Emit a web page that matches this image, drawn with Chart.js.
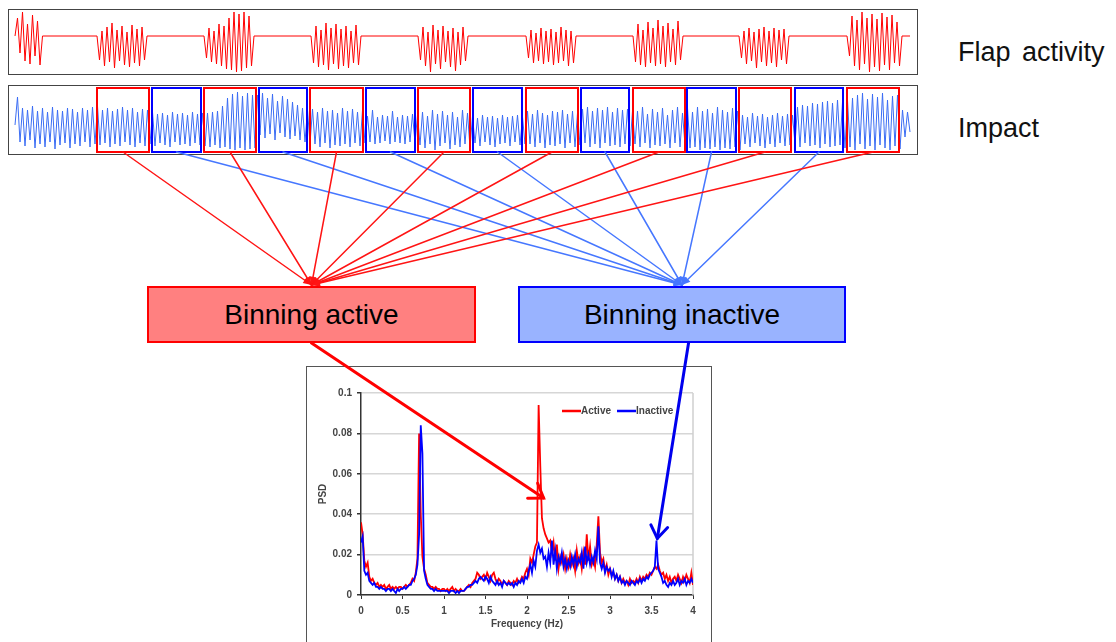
<!DOCTYPE html>
<html>
<head>
<meta charset="utf-8">
<script src="https://cdn.jsdelivr.net/npm/chart.js@4.4.1/dist/chart.umd.min.js"></script>
<style>
  html, body { margin:0; padding:0; background:#fff; width:1116px; height:642px; overflow:hidden;
               font-family:"Liberation Sans", Arial, sans-serif; }
  .frame { position:absolute; box-sizing:border-box; border:1px solid #444; background:#fff; }
  canvas { position:absolute; display:block; }
  .label { position:absolute; font-size:27px; line-height:27px; color:#111; white-space:nowrap; word-spacing:4px; }
  .bin { position:absolute; box-sizing:border-box; display:flex; align-items:center; justify-content:center;
         font-size:28px; color:#000; }
</style>
</head>
<body>
<div class="frame" style="left:8px;top:9px;width:910px;height:66px"></div>
<canvas id="flap" width="908" height="64" style="left:9px;top:10px"></canvas>
<div class="label" style="left:958px;top:39px">Flap activity</div>

<div class="frame" style="left:8px;top:85px;width:910px;height:70px"></div>
<canvas id="impact" width="908" height="68" style="left:9px;top:86px"></canvas>
<div class="label" style="left:958px;top:115px">Impact</div>

<div class="bin" id="binActive" style="left:147px;top:286px;width:329px;height:57px;background:#ff8080;border:2px solid #ff0000">Binning active</div>
<div class="bin" id="binInactive" style="left:518px;top:286px;width:328px;height:57px;background:#99b3ff;border:2px solid #0000ff">Binning inactive</div>

<div class="frame" style="left:306px;top:366px;width:406px;height:290px;border-color:#555"></div>
<canvas id="psd" width="404" height="275" style="left:307px;top:367px"></canvas>

<canvas id="overlay" width="1116" height="642" style="left:0;top:0;pointer-events:none"></canvas>

<script>
const FONT = '"Liberation Sans", Arial, sans-serif';

// ---- time traces (s), both sampled every DT from T_START ----
const T_START = 0.6, DT = 0.25, TRACE_END = 90.1, T_MAX = 90.8;

// flapping bouts: start time of each bout and its samples (0 = resting baseline)
const flapBurstStart = [0.6, 8.8, 19.5, 30.2, 40.9, 51.7, 62.4, 73.0, 83.8];
const flapBursts = [
  [0, 18, -17, 24, -25, 12, -28, 21, -20, 15, -29, 0],
  [0, -24, 5, -30, 9, -26, 13, -32, 6, -25, 10, -29, 4, -31, 11, -27, 7, -30, 9, -24, 0],
  [0, -22, 8, -26, 5, -28, 12, -30, 10, -33, 18, -34, 24, -36, 22, -35, 24, -32, 20, -30, 0],
  [0, -27, 10, -31, 6, -29, 13, -34, 8, -28, 12, -33, 7, -30, 10, -32, 5, -27, 11, -29, 0],
  [0, -24, 9, -30, 4, -36, 11, -28, 6, -33, 10, -26, 5, -31, 8, -35, 4, -29, 9, -25, 0],
  [0, -22, 6, -27, 3, -25, 8, -28, 5, -26, 7, -29, 4, -27, 9, -25, 6, -30, 5, -27, 0],
  [0, -26, 12, -29, 6, -31, 14, -27, 8, -30, 16, -28, 10, -31, 13, -26, 7, -29, 15, -24, 0],
  [0, -22, 5, -28, 8, -25, 4, -32, 7, -26, 9, -30, 5, -27, 8, -31, 6, -24, 7, -28, 0],
  [0, -20, 20, -30, 16, -34, 24, -28, 18, -36, 22, -31, 17, -35, 23, -29, 19, -34, 21, -27, 14, -30, 0]
];

// impact trace, one line per bin
const impactTrace = [
  -5, 23, -22, 12, -26, 10, -20, 14, -28, 9, -24, 12, -27, 8, -22, 13, -29, 10, -25, 9, -23, 12, -28, 11, -24, 8, -26, 12, -22, 10, -27, 13, -24,
  14, -25, 10, -23, 12, -27, 9, -24, 11, -26, 13, -22, 10, -25, 12, -27, 8, -23, 11, -26, 10,
  -24, 8, -26, 6, -23, 7, -25, 5, -27, 8, -22, 6, -25, 7, -24, 5, -26, 8, -23, 6, -25, 7,
  -26, 7, -27, 8, -25, 9, -28, 14, -27, 22, -29, 26, -30, 28, -28, 24, -30, 27, -29, 25, -28,
  25, -15, 27, -18, 22, -14, 26, -20, 19, -13, 24, -17, 21, -19, 18, -16, 15, -20, 12, -22, 10, -24,
  11, -24, 8, -27, 12, -23, 9, -28, 10, -25, 7, -26, 12, -24, 9, -27, 11, -23, 8, -26, 10,
  -23, 4, -22, 10, -24, 3, -23, 5, -21, 4, -24, 9, -22, 3, -23, 5, -24, 4, -22, 6, -23, 5,
  -25, 8, -28, 4, -24, 10, -30, 6, -26, 9, -23, 5, -29, 8, -25, 3, -27, 10, -24, 7, -28,
  4, -23, 2, -26, 5, -22, 3, -25, 4, -27, 2, -24, 5, -23, 3, -26, 4, -22, 5, -25, 3, -24,
  9, -24, 6, -27, 10, -23, 7, -28, 5, -25, 9, -26, 8, -24, 10, -28, 6, -23, 9, -27, 7,
  -25, 11, -23, 13, -27, 9, -24, 12, -28, 10, -23, 13, -26, 8, -25, 12, -27, 10, -24, 11, -26, 9,
  -24, 9, -27, 13, -23, 6, -28, 11, -25, 8, -26, 12, -24, 5, -28, 10, -23, 13, -27, 7, -25,
  12, -28, 8, -27, 13, -30, 9, -28, 11, -29, 7, -27, 13, -30, 10, -28, 8, -29, 12, -27, 9, -30,
  5, -24, 3, -27, 7, -23, 4, -26, 6, -28, 3, -24, 5, -27, 7, -23, 4, -26, 6, -25, 5,
  -24, 13, -27, 15, -23, 14, -26, 17, -25, 16, -28, 18, -24, 19, -27, 17, -26, 20, -25, 18, -28, 20,
  -27, 22, -30, 25, -24, 27, -29, 21, -26, 26, -30, 23, -25, 27, -28, 20, -30, 24, -26, 25, -29,
  10, -17, 8, -12
];

// bins [start, end] (s)
const activeBins = [[8.8,14.0],[19.5,24.7],[30.1,35.4],[40.9,46.1],[51.7,56.9],[62.4,67.6],[73.0,78.2],[83.8,89.0]];
const inactiveBins = [[14.3,19.2],[25.0,29.8],[35.7,40.6],[46.4,51.3],[57.2,62.0],[67.8,72.7],[78.6,83.4]];

// ---- power spectra, 0..4 Hz every 0.02 Hz ----
const FREQ_STEP = 0.02;
const psdActive = [
  0.036,0.030,0.017,0.014,0.016,0.009,0.007,0.008,0.006,0.005,
  0.006,0.004,0.005,0.004,0.005,0.003,0.004,0.005,0.003,0.004,
  0.003,0.004,0.003,0.004,0.004,0.003,0.004,0.005,0.004,0.005,
  0.006,0.008,0.007,0.011,0.018,0.080,0.040,0.019,0.013,0.010,
  0.006,0.005,0.004,0.004,0.003,0.004,0.003,0.003,0.002,0.003,
  0.003,0.002,0.003,0.002,0.003,0.004,0.002,0.003,0.002,0.002,
  0.003,0.002,0.002,0.003,0.004,0.005,0.004,0.006,0.007,0.008,
  0.011,0.010,0.008,0.009,0.010,0.008,0.011,0.009,0.007,0.010,
  0.011,0.008,0.006,0.008,0.007,0.005,0.007,0.006,0.005,0.007,
  0.006,0.005,0.007,0.006,0.008,0.006,0.007,0.009,0.008,0.011,
  0.013,0.010,0.018,0.016,0.020,0.024,0.026,0.094,0.064,0.038,
  0.033,0.030,0.028,0.026,0.027,0.021,0.026,0.017,0.025,0.013,
  0.019,0.016,0.020,0.013,0.018,0.014,0.020,0.015,0.018,0.012,
  0.022,0.016,0.019,0.013,0.021,0.015,0.030,0.017,0.024,0.015,
  0.018,0.014,0.025,0.039,0.021,0.016,0.018,0.012,0.015,0.010,
  0.013,0.010,0.011,0.008,0.010,0.007,0.009,0.006,0.008,0.006,
  0.007,0.005,0.008,0.006,0.007,0.006,0.008,0.006,0.009,0.007,
  0.009,0.008,0.010,0.009,0.011,0.010,0.012,0.014,0.013,0.015,
  0.012,0.010,0.011,0.008,0.010,0.007,0.009,0.006,0.008,0.009,
  0.007,0.010,0.008,0.006,0.009,0.007,0.010,0.008,0.006,0.011,
  0.005
];
const psdInactive = [
  0.026,0.029,0.012,0.010,0.011,0.007,0.006,0.005,0.006,0.004,
  0.004,0.003,0.004,0.003,0.003,0.002,0.003,0.003,0.002,0.003,
  0.002,0.001,0.003,0.002,0.003,0.003,0.004,0.003,0.004,0.005,
  0.005,0.007,0.008,0.010,0.015,0.030,0.084,0.070,0.012,0.008,
  0.005,0.004,0.003,0.003,0.002,0.003,0.002,0.002,0.002,0.002,
  0.002,0.002,0.002,0.001,0.002,0.002,0.002,0.001,0.002,0.001,
  0.002,0.002,0.002,0.003,0.004,0.004,0.005,0.005,0.006,0.007,
  0.006,0.008,0.009,0.008,0.007,0.009,0.008,0.006,0.009,0.007,
  0.006,0.005,0.007,0.005,0.006,0.004,0.007,0.006,0.005,0.006,
  0.005,0.006,0.004,0.006,0.005,0.007,0.006,0.008,0.006,0.009,
  0.008,0.012,0.015,0.011,0.017,0.014,0.022,0.025,0.021,0.023,
  0.018,0.019,0.014,0.021,0.016,0.027,0.015,0.022,0.013,0.019,
  0.016,0.021,0.014,0.018,0.013,0.017,0.014,0.019,0.015,0.020,
  0.014,0.018,0.016,0.021,0.013,0.024,0.016,0.020,0.015,0.019,
  0.016,0.022,0.018,0.034,0.016,0.013,0.016,0.011,0.014,0.012,
  0.013,0.009,0.012,0.008,0.010,0.007,0.009,0.006,0.007,0.005,
  0.007,0.006,0.005,0.007,0.006,0.005,0.007,0.006,0.008,0.006,
  0.008,0.007,0.009,0.008,0.010,0.011,0.012,0.014,0.027,0.013,
  0.011,0.009,0.006,0.007,0.005,0.004,0.006,0.005,0.007,0.005,
  0.006,0.008,0.005,0.007,0.006,0.008,0.005,0.007,0.006,0.008,
  0.006
];
// where the pointers from the bin boxes land on the spectrum [Hz, PSD]
const activePointer = [2.2, 0.048];
const inactivePointer = [3.57, 0.028];

function flapPoints(){
  const pts = [];
  flapBursts.forEach((b, k) => b.forEach((v, i) => pts.push({ x: flapBurstStart[k] + i*DT, y: v })));
  pts.push({ x: TRACE_END, y: 0 });
  return pts;
}
const toXY = (arr, x0, step) => arr.map((v, i) => ({ x: x0 + i*step, y: v }));
const plainNum = v => String(+Number(v).toFixed(3));   // 0.1, 0.5, 1 (no trailing zeros)

// bin rectangles on top of the impact trace
const binBoxes = {
  id: 'binBoxes',
  afterDatasetsDraw(chart){
    const { ctx, chartArea: a, scales: { x } } = chart;
    ctx.save();
    ctx.lineWidth = 2;
    [[activeBins, '#ff0000'], [inactiveBins, '#0000ff']].forEach(([bins, col]) => {
      ctx.strokeStyle = col;
      bins.forEach(([s, e]) => {
        const l = x.getPixelForValue(s), r = x.getPixelForValue(e);
        ctx.strokeRect(l, a.top + 2, r - l, a.bottom - a.top - 4);
      });
    });
    ctx.restore();
  }
};

function traceChart(id, data, color, yMin, yMax, plugins){
  return new Chart(document.getElementById(id), {
    type: 'line',
    data: { datasets: [{ data, borderColor: color, borderWidth: 1, pointRadius: 0, tension: 0 }] },
    options: {
      responsive: false, animation: false, events: [],
      layout: { padding: 0 },
      plugins: { legend: { display: false }, tooltip: { enabled: false } },
      scales: {
        x: { type: 'linear', display: false, min: 0, max: T_MAX },
        y: { display: false, min: yMin, max: yMax }
      }
    },
    plugins: plugins || []
  });
}

const flap = traceChart('flap', flapPoints(), '#ff0000', -38, 26);
const impact = traceChart('impact', toXY(impactTrace, T_START, DT), '#3a6cf4', -34, 34, [binBoxes]);

// light frame on the right of the plot + legend inside the plot
const plotFrame = {
  id: 'plotFrame',
  beforeDatasetsDraw(chart){
    const { ctx, chartArea: a } = chart;
    ctx.save();
    ctx.strokeStyle = '#cfcfcf'; ctx.lineWidth = 1.5;
    ctx.beginPath(); ctx.moveTo(a.right, a.top); ctx.lineTo(a.right, a.bottom); ctx.stroke();
    ctx.restore();
  }
};
const inlineLegend = {
  id: 'inlineLegend',
  afterDraw(chart){
    const { ctx, chartArea: a } = chart;
    const y = a.top + 18;
    let x = a.left + 201;
    ctx.save();
    ctx.font = 'bold 10px ' + FONT;
    ctx.textBaseline = 'middle';
    chart.data.datasets.forEach(ds => {
      ctx.strokeStyle = ds.borderColor; ctx.lineWidth = 2.5;
      ctx.beginPath(); ctx.moveTo(x, y); ctx.lineTo(x + 19, y); ctx.stroke();
      ctx.fillStyle = '#444';
      ctx.fillText(ds.label, x + 19, y);
      x += 19 + ctx.measureText(ds.label).width + 6;
    });
    ctx.restore();
  }
};

const tickFont = { size: 10, weight: 'bold', family: FONT };
const psd = new Chart(document.getElementById('psd'), {
  type: 'line',
  data: { datasets: [
    { label: 'Active', data: toXY(psdActive, 0, FREQ_STEP), borderColor: '#ff0000', borderWidth: 1.8, pointRadius: 0, order: 1 },
    { label: 'Inactive', data: toXY(psdInactive, 0, FREQ_STEP), borderColor: '#0000ff', borderWidth: 1.8, pointRadius: 0, order: 0 }
  ]},
  options: {
    responsive: false, animation: false, events: [],
    layout: { padding: { top: 26, right: 18, bottom: 7, left: 0 } },
    plugins: { legend: { display: false }, tooltip: { enabled: false } },
    scales: {
      x: {
        type: 'linear', min: 0, max: 4,
        ticks: { stepSize: 0.5, color: '#444', font: tickFont, padding: 6, maxRotation: 0, callback: plainNum },
        grid: { drawOnChartArea: false, tickLength: 4, tickColor: '#333' },
        border: { color: '#333', width: 1.5 },
        title: { display: true, text: 'Frequency (Hz)', color: '#444', font: tickFont, padding: { top: 0, bottom: 5 } },
        afterFit: s => { s.height = 40; }
      },
      y: {
        min: 0, max: 0.1,
        ticks: { stepSize: 0.02, color: '#444', font: tickFont, padding: 5, callback: plainNum },
        grid: { color: '#d6d6d6', lineWidth: 1.5, tickLength: 4, tickColor: '#333' },
        border: { color: '#333', width: 1.5 },
        title: { display: true, text: 'PSD', color: '#444', font: tickFont, padding: { top: 10, bottom: 0 } },
        afterFit: s => { s.width = 54; }
      }
    }
  },
  plugins: [plotFrame, inlineLegend]
});

// ---- connectors between panels ----
function arrow(ctx, x0, y0, x1, y1, color, width, filled, len, spread){
  const ang = Math.atan2(y1 - y0, x1 - x0);
  const a1 = ang + Math.PI - spread, a2 = ang + Math.PI + spread;
  ctx.save();
  ctx.strokeStyle = color; ctx.fillStyle = color; ctx.lineWidth = width; ctx.lineCap = 'round';
  ctx.beginPath(); ctx.moveTo(x0, y0); ctx.lineTo(x1, y1); ctx.stroke();
  ctx.beginPath();
  ctx.moveTo(x1 + len*Math.cos(a1), y1 + len*Math.sin(a1));
  ctx.lineTo(x1, y1);
  ctx.lineTo(x1 + len*Math.cos(a2), y1 + len*Math.sin(a2));
  if (filled){ ctx.closePath(); ctx.fill(); } else { ctx.stroke(); }
  ctx.restore();
}

function drawConnectors(){
  const ctx = document.getElementById('overlay').getContext('2d');
  const ir = impact.canvas.getBoundingClientRect();
  const pr = psd.canvas.getBoundingClientRect();
  const boxA = document.getElementById('binActive').getBoundingClientRect();
  const boxI = document.getElementById('binInactive').getBoundingClientRect();
  const xs = impact.scales.x, bottom = ir.top + impact.chartArea.bottom - 2;

  const fan = (bins, box, color) => {
    const tx = box.left + box.width/2, ty = box.top - 1;
    bins.forEach(([s, e]) => {
      arrow(ctx, ir.left + xs.getPixelForValue((s + e)/2), bottom, tx, ty, color, 1.5, true, 9, 0.4);
    });
  };
  fan(inactiveBins, boxI, '#4677ff');
  fan(activeBins, boxA, '#ff1414');

  const psdPx = ([f, v]) => [pr.left + psd.scales.x.getPixelForValue(f), pr.top + psd.scales.y.getPixelForValue(v)];
  const [ax, ay] = psdPx(activePointer);
  arrow(ctx, boxA.left + boxA.width/2, boxA.bottom, ax, ay, '#ff0000', 3, false, 16, 0.6);
  const [bx, by] = psdPx(inactivePointer);
  arrow(ctx, boxI.left + boxI.width*0.52, boxI.bottom, bx, by, '#0000ee', 3, false, 15, 0.6);
}
drawConnectors();
</script>
</body>
</html>
